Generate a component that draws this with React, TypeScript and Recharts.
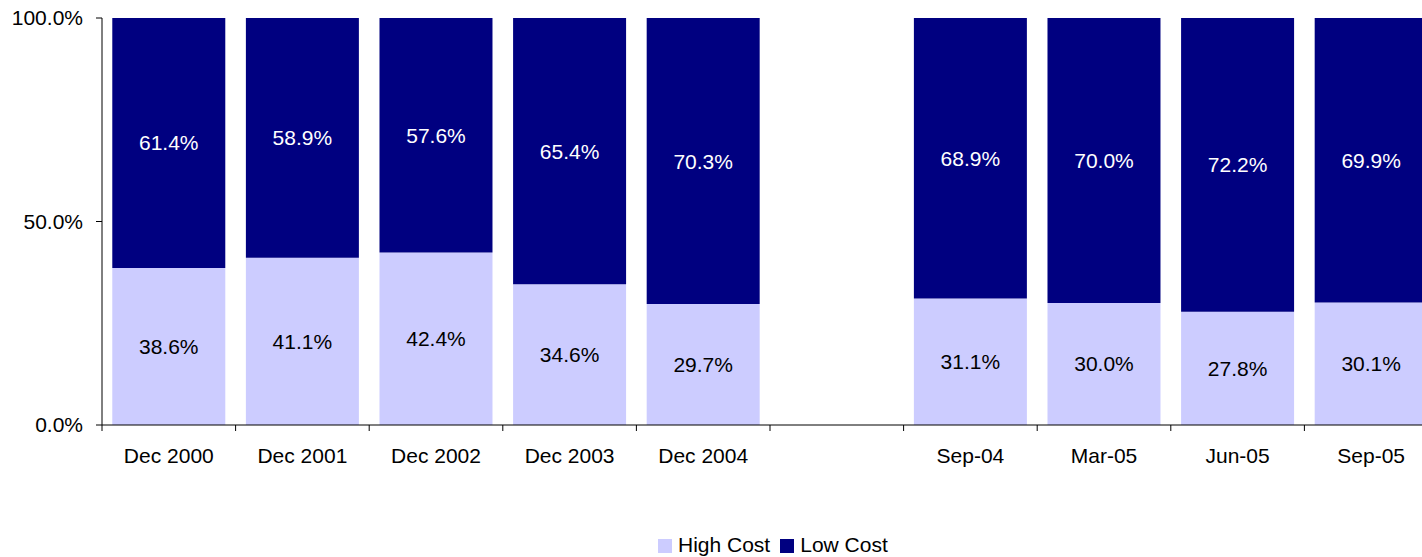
import { Bar, BarChart, LabelList, Legend, XAxis, YAxis } from 'recharts';

const categories = ['Dec 2000', 'Dec 2001', 'Dec 2002', 'Dec 2003', 'Dec 2004', '', 'Sep-04', 'Mar-05', 'Jun-05', 'Sep-05'];
const highCost = [38.6, 41.1, 42.4, 34.6, 29.7, null, 31.1, 30.0, 27.8, 30.1];
const lowCost = [61.4, 58.9, 57.6, 65.4, 70.3, null, 68.9, 70.0, 72.2, 69.9];
const yTicks = [0, 50, 100];

const data = categories.map((name, i) => ({ name, high: highCost[i], low: lowCost[i] }));

const CHART_W = 1438;
const CHART_H = 557;
const YAXIS_W = 102;
const SLOT = (CHART_W - YAXIS_W) / categories.length;
const FONT = '"Liberation Sans", Arial, sans-serif';
const FS = 21;

const pct = (v: any) => (v == null ? '' : `${Number(v).toFixed(1)}%`);

// tick marks sit between categories, label in the middle
function CategoryTick(props: any) {
  const { x, y, payload } = props;
  const axisY = y - 6;
  return (
    <g>
      <line x1={x - SLOT / 2} x2={x - SLOT / 2} y1={axisY} y2={axisY + 6} stroke="#000" />
      <text x={x} y={y + 17} dy="0.71em" textAnchor="middle" fill="#000" fontSize={FS}>
        {payload.value}
      </text>
    </g>
  );
}

export default function App() {
  return (
    <div style={{ position: 'absolute', left: 0, top: 0, width: 1422, height: 557, overflow: 'hidden', fontFamily: FONT, background: '#fff' }}>
      <BarChart width={CHART_W} height={CHART_H} data={data} margin={{ top: 18, right: 0, bottom: 0, left: 0 }} barCategoryGap="7.7%">
        <XAxis
          dataKey="name"
          height={108}
          tickLine={false}
          tickSize={6}
          tickMargin={0}
          interval={0}
          stroke="#000"
          tick={<CategoryTick />}
        />
        <YAxis
          width={YAXIS_W}
          domain={[0, 100]}
          ticks={yTicks}
          tickFormatter={pct}
          tickSize={6}
          tickMargin={13}
          stroke="#000"
          tick={{ fill: '#000', fontSize: FS }}
        />
        <Legend
          verticalAlign="bottom"
          align="left"
          iconType="square"
          iconSize={14}
          wrapperStyle={{ left: 658, width: 320, fontSize: FS, bottom: 0 }}
          formatter={(value) => <span style={{ color: '#000', marginLeft: 2 }}>{value}</span>}
        />
        <Bar dataKey="high" name="High Cost" stackId="a" fill="#CCCCFF" isAnimationActive={false}>
          <LabelList dataKey="high" position="center" formatter={pct} fill="#000" fontSize={FS} />
        </Bar>
        <Bar dataKey="low" name="Low Cost" stackId="a" fill="#000080" isAnimationActive={false}>
          <LabelList dataKey="low" position="center" formatter={pct} fill="#fff" fontSize={FS} />
        </Bar>
      </BarChart>
    </div>
  );
}
